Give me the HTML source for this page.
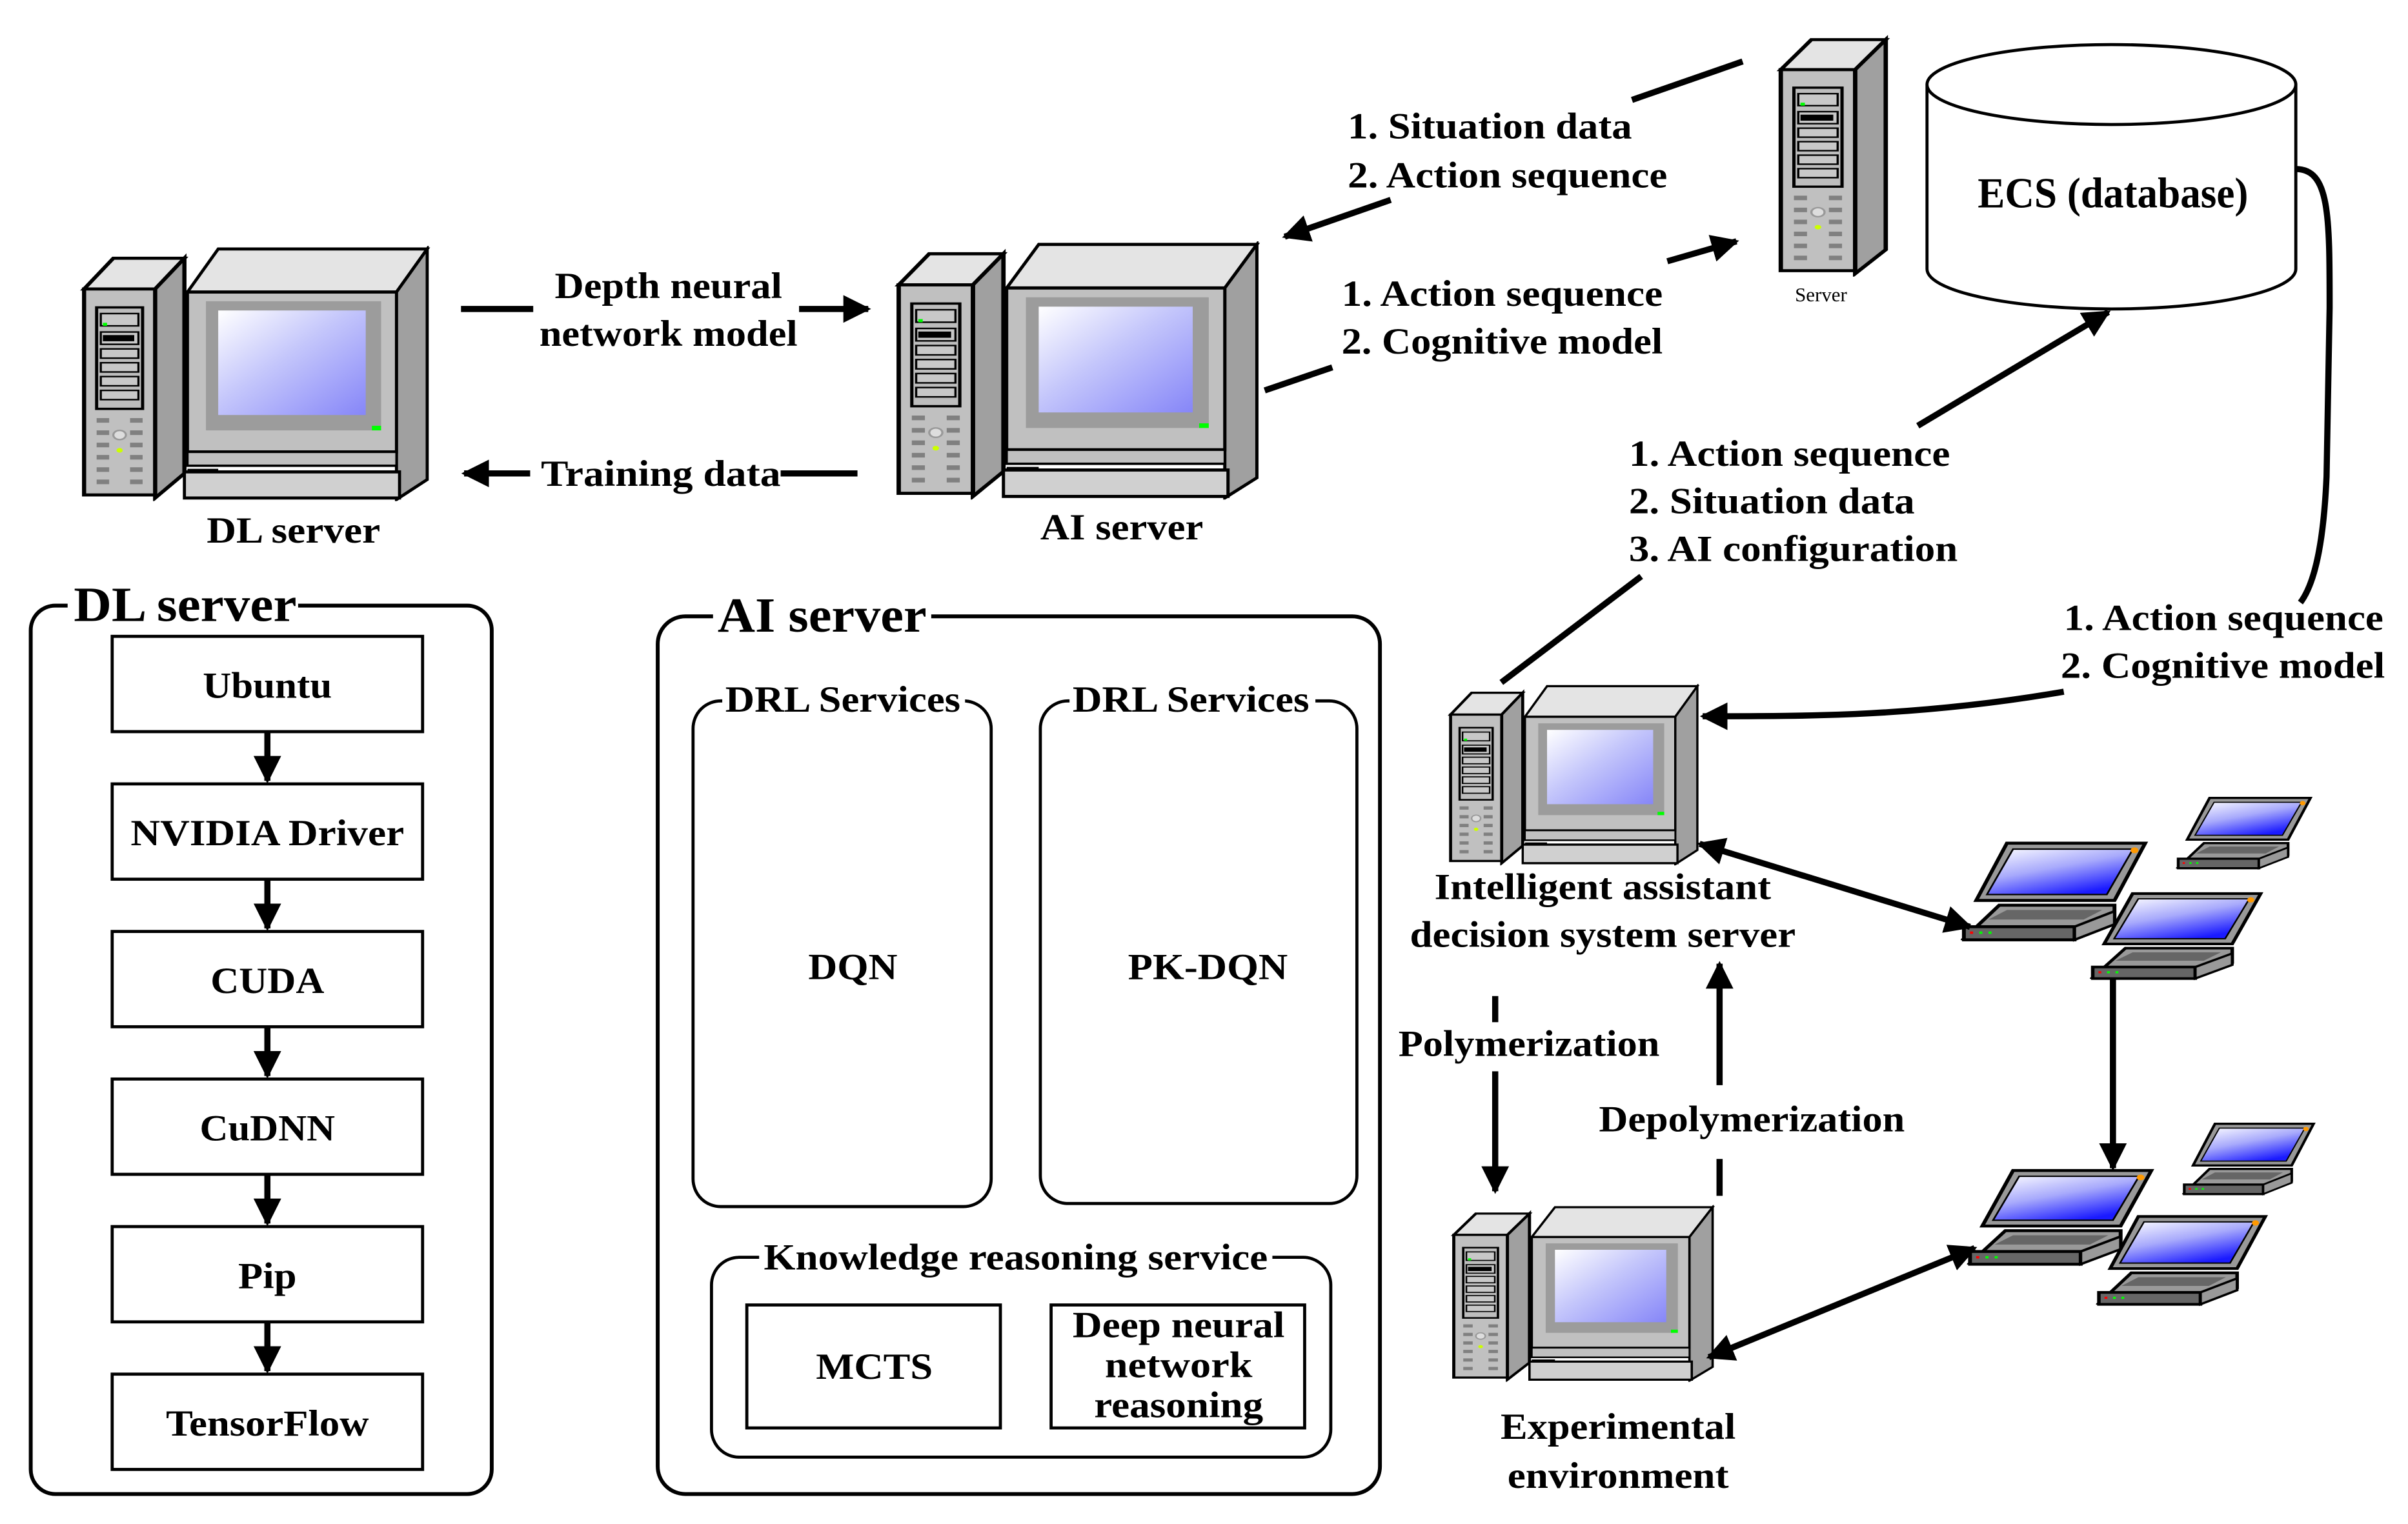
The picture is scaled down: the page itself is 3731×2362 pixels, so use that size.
<!DOCTYPE html>
<html><head><meta charset="utf-8"><style>
html,body{margin:0;padding:0;background:#fff;}
svg{display:block;}
text{font-family:"Liberation Serif",serif;font-weight:bold;fill:#000;}
</style></head><body>
<svg width="3731" height="2362" viewBox="0 0 1567 991.5" preserveAspectRatio="none" xmlns="http://www.w3.org/2000/svg">
<defs>
<marker id="ah" viewBox="0 0 10 10" refX="9" refY="5" markerWidth="4.5" markerHeight="4.5" orient="auto-start-reverse" markerUnits="strokeWidth">
<path d="M0,0 L10,5 L0,10 z" fill="#000"/></marker>
<linearGradient id="scr" x1="0" y1="0" x2="1" y2="1">
<stop offset="0" stop-color="#fff"/><stop offset="0.45" stop-color="#c4c6fb"/><stop offset="1" stop-color="#8686f8"/></linearGradient>
<linearGradient id="lscr" x1="0" y1="0" x2="0.6" y2="1">
<stop offset="0" stop-color="#fff"/><stop offset="0.5" stop-color="#a8aafc"/><stop offset="1" stop-color="#1a1aff"/></linearGradient>
<g id="tower">
<path d="M2,28 L16,8 L50,8 L36,28 z" fill="#e4e4e4" stroke="#000" stroke-width="2"/>
<path d="M36,28 L50,8 L50,148 L36,164 z" fill="#a0a0a0" stroke="#000" stroke-width="2"/>
<rect x="2" y="28" width="34" height="134" fill="#c0c0c0" stroke="#000" stroke-width="2"/>
<rect x="8" y="40" width="22" height="66" fill="#bdbdbd" stroke="#000" stroke-width="1.5"/>
<rect x="10" y="44" width="18" height="8" fill="#c8c8c8" stroke="#000" stroke-width="1"/>
<rect x="10" y="56" width="18" height="8" fill="#c8c8c8" stroke="#000" stroke-width="1"/>
<rect x="11" y="58" width="15" height="4" fill="#000"/>
<rect x="10" y="67" width="18" height="6" fill="#c8c8c8" stroke="#000" stroke-width="1"/>
<rect x="10" y="76" width="18" height="6" fill="#c8c8c8" stroke="#000" stroke-width="1"/>
<rect x="10" y="85" width="18" height="6" fill="#c8c8c8" stroke="#000" stroke-width="1"/>
<rect x="10" y="94" width="18" height="6" fill="#c8c8c8" stroke="#000" stroke-width="1"/>
<rect x="11" y="50" width="2" height="2" fill="#0f0"/>
<g fill="#808080"><rect x="8" y="112" width="6" height="3"/><rect x="24" y="112" width="6" height="3"/><rect x="8" y="120" width="6" height="3"/><rect x="24" y="120" width="6" height="3"/><rect x="8" y="128" width="6" height="3"/><rect x="24" y="128" width="6" height="3"/><rect x="8" y="136" width="6" height="3"/><rect x="24" y="136" width="6" height="3"/><rect x="8" y="144" width="6" height="3"/><rect x="24" y="144" width="6" height="3"/><rect x="8" y="152" width="6" height="3"/><rect x="24" y="152" width="6" height="3"/></g>
<circle cx="19" cy="123" r="3" fill="#ddd" stroke="#999"/><circle cx="19" cy="133" r="1.5" fill="#cf0"/>
</g>
<g id="pc">
<g transform="scale(1.36,1)"><use href="#tower"/></g>
<path d="M70,30 L90,2 L226,2 L206,30 z" fill="#e4e4e4" stroke="#000" stroke-width="2"/>
<path d="M206,30 L226,2 L226,152 L206,165 z" fill="#a0a0a0" stroke="#000" stroke-width="2"/>
<rect x="70" y="30" width="136" height="104" fill="#c0c0c0" stroke="#000" stroke-width="2"/>
<rect x="82" y="36" width="114" height="84" fill="#9c9c9c"/>
<rect x="90" y="42" width="96" height="68" fill="url(#scr)"/>
<rect x="190" y="117" width="6" height="3" fill="#0f0"/>
<rect x="70" y="134" width="136" height="9" fill="#c0c0c0" stroke="#000" stroke-width="1.5"/>
<rect x="68" y="147" width="140" height="17" fill="#d0d0d0" stroke="#000" stroke-width="2"/>
<rect x="70" y="145" width="20" height="2" fill="#000"/>
</g>
<g id="laptop">
<path d="M30,2 L120,2 L100,50 L10,50 z" fill="#999" stroke="#000" stroke-width="2.5"/>
<path d="M34,7 L112,7 L95,45 L17,45 z" fill="url(#lscr)" stroke="#000" stroke-width="1.2"/>
<circle cx="113" cy="8" r="2.5" fill="#f90"/>
<path d="M25,54 L100,54 L100,68 L72,82 L2,82 z" fill="#999" stroke="#000" stroke-width="2.5"/>
<path d="M30,58 L92,58 L80,66 L18,66 z" fill="#666"/>
<rect x="2" y="72" width="72" height="11" fill="#666" stroke="#000" stroke-width="2.5"/>
<path d="M74,72 L100,59 L100,70 L74,83 z" fill="#999" stroke="#000" stroke-width="2"/>
<rect x="6" y="76" width="2" height="2" fill="red"/><rect x="12" y="76" width="2" height="2" fill="#0f0"/><rect x="18" y="76" width="2" height="2" fill="#0f0"/>
</g>
</defs>

<!-- computers -->
<svg x="52" y="160" width="228" height="166" viewBox="0 0 228 166" preserveAspectRatio="none"><use href="#pc"/></svg>
<svg x="582" y="157" width="238" height="168" viewBox="0 0 228 166" preserveAspectRatio="none"><use href="#pc"/></svg>
<svg x="942" y="445" width="164" height="118" viewBox="0 0 228 166" preserveAspectRatio="none"><use href="#pc"/></svg>
<svg x="944" y="784" width="172" height="115" viewBox="0 0 228 166" preserveAspectRatio="none"><use href="#pc"/></svg>
<svg x="1156" y="18" width="74" height="162" viewBox="0 0 52 166" preserveAspectRatio="none"><use href="#tower"/></svg>
<text x="1185" y="196" font-size="13" text-anchor="middle" style="font-weight:normal">Server</text>

<!-- laptops -->
<svg x="1276" y="547" width="122" height="66" viewBox="0 0 122 85" preserveAspectRatio="none"><use href="#laptop"/></svg>
<svg x="1416" y="518" width="89" height="48" viewBox="0 0 122 85" preserveAspectRatio="none"><use href="#laptop"/></svg>
<svg x="1360" y="580" width="113" height="58" viewBox="0 0 122 85" preserveAspectRatio="none"><use href="#laptop"/></svg>
<svg x="1280" y="760" width="122" height="64" viewBox="0 0 122 85" preserveAspectRatio="none"><use href="#laptop"/></svg>
<svg x="1420" y="730" width="87" height="48" viewBox="0 0 122 85" preserveAspectRatio="none"><use href="#laptop"/></svg>
<svg x="1364" y="790" width="112" height="60" viewBox="0 0 122 85" preserveAspectRatio="none"><use href="#laptop"/></svg>

<!-- database -->
<path d="M1254,55 L1254,175 A120,26 0 0 0 1494,175 L1494,55" fill="#fff" stroke="#000" stroke-width="2"/>
<ellipse cx="1374" cy="55" rx="120" ry="26" fill="#fff" stroke="#000" stroke-width="2"/>
<text x="1375" y="135" font-size="28" text-anchor="middle" textLength="176" lengthAdjust="spacingAndGlyphs">ECS (database)</text>

<!-- connectors -->
<g stroke="#000" stroke-width="4" fill="none">
<line x1="300" y1="201" x2="347" y2="201"/>
<line x1="520" y1="201" x2="565" y2="201" marker-end="url(#ah)"/>
<line x1="345" y1="308" x2="302" y2="308" marker-end="url(#ah)"/>
<line x1="508" y1="308" x2="558" y2="308"/>
<line x1="905" y1="130" x2="836" y2="154" marker-end="url(#ah)"/>
<line x1="1062" y1="65" x2="1134" y2="40"/>
<line x1="823" y1="254" x2="867" y2="239"/>
<line x1="1085" y1="170" x2="1130" y2="157" marker-end="url(#ah)"/>
<line x1="977" y1="444" x2="1068" y2="375"/>
<line x1="1248" y1="277" x2="1372" y2="203" marker-end="url(#ah)"/>
<path d="M1494,110 C1516,110 1516,140 1516,200 L1514,310 C1512,355 1506,380 1497,392"/>
<path d="M1343,450 C1250,466 1180,466 1108,466" marker-end="url(#ah)"/>
<line x1="1106" y1="549" x2="1282" y2="603" marker-start="url(#ah)" marker-end="url(#ah)"/>
<line x1="1375" y1="637" x2="1375" y2="760" marker-end="url(#ah)"/>
<line x1="1112" y1="883" x2="1285" y2="812" marker-start="url(#ah)" marker-end="url(#ah)"/>
<line x1="973" y1="648" x2="973" y2="665"/>
<line x1="973" y1="697" x2="973" y2="775" marker-end="url(#ah)"/>
<line x1="1119" y1="778" x2="1119" y2="754"/>
<line x1="1119" y1="706" x2="1119" y2="627" marker-end="url(#ah)"/>
</g>

<!-- top labels -->
<g font-size="24">
<text x="435" y="194" text-anchor="middle" textLength="148" lengthAdjust="spacingAndGlyphs">Depth neural</text>
<text x="435" y="225" text-anchor="middle" textLength="168" lengthAdjust="spacingAndGlyphs">network model</text>
<text x="352" y="316" textLength="156" lengthAdjust="spacingAndGlyphs">Training data</text>
<text x="877" y="90" textLength="185" lengthAdjust="spacingAndGlyphs">1. Situation data</text>
<text x="877" y="122" textLength="208" lengthAdjust="spacingAndGlyphs">2. Action sequence</text>
<text x="873" y="199" textLength="209" lengthAdjust="spacingAndGlyphs">1. Action sequence</text>
<text x="873" y="230" textLength="209" lengthAdjust="spacingAndGlyphs">2. Cognitive model</text>
<text x="1060" y="303" textLength="209" lengthAdjust="spacingAndGlyphs">1. Action sequence</text>
<text x="1060" y="334" textLength="186" lengthAdjust="spacingAndGlyphs">2. Situation data</text>
<text x="1060" y="365" textLength="214" lengthAdjust="spacingAndGlyphs">3. AI configuration</text>
<text x="1343" y="410" textLength="208" lengthAdjust="spacingAndGlyphs">1. Action sequence</text>
<text x="1341" y="441" textLength="211" lengthAdjust="spacingAndGlyphs">2. Cognitive model</text>
<text x="191" y="353" text-anchor="middle" textLength="113" lengthAdjust="spacingAndGlyphs">DL server</text>
<text x="730" y="351" text-anchor="middle" textLength="106" lengthAdjust="spacingAndGlyphs">AI server</text>
<text x="1043" y="585" text-anchor="middle" textLength="219" lengthAdjust="spacingAndGlyphs">Intelligent assistant</text>
<text x="1043" y="616" text-anchor="middle" textLength="251" lengthAdjust="spacingAndGlyphs">decision system server</text>
<text x="995" y="687" text-anchor="middle" textLength="170" lengthAdjust="spacingAndGlyphs">Polymerization</text>
<text x="1140" y="736" text-anchor="middle" textLength="199" lengthAdjust="spacingAndGlyphs">Depolymerization</text>
<text x="1053" y="936" text-anchor="middle" textLength="153" lengthAdjust="spacingAndGlyphs">Experimental</text>
<text x="1053" y="968" text-anchor="middle" textLength="144" lengthAdjust="spacingAndGlyphs">environment</text>
</g>

<!-- DL server panel -->
<rect x="20" y="394" width="300" height="578" rx="16" fill="none" stroke="#000" stroke-width="2.5"/>
<rect x="44" y="380" width="150" height="28" fill="#fff"/>
<text x="48" y="404" font-size="32" textLength="145" lengthAdjust="spacingAndGlyphs">DL server</text>
<g fill="#fff" stroke="#000" stroke-width="2">
<rect x="73" y="414" width="202" height="62"/>
<rect x="73" y="510" width="202" height="62"/>
<rect x="73" y="606" width="202" height="62"/>
<rect x="73" y="702" width="202" height="62"/>
<rect x="73" y="798" width="202" height="62"/>
<rect x="73" y="894" width="202" height="62"/>
</g>
<g stroke="#000" stroke-width="4">
<line x1="174" y1="476" x2="174" y2="508" marker-end="url(#ah)"/>
<line x1="174" y1="572" x2="174" y2="604" marker-end="url(#ah)"/>
<line x1="174" y1="668" x2="174" y2="700" marker-end="url(#ah)"/>
<line x1="174" y1="764" x2="174" y2="796" marker-end="url(#ah)"/>
<line x1="174" y1="860" x2="174" y2="892" marker-end="url(#ah)"/>
</g>
<g font-size="24" text-anchor="middle">
<text x="174" y="454" textLength="84" lengthAdjust="spacingAndGlyphs">Ubuntu</text>
<text x="174" y="550" textLength="178" lengthAdjust="spacingAndGlyphs">NVIDIA Driver</text>
<text x="174" y="646" textLength="74" lengthAdjust="spacingAndGlyphs">CUDA</text>
<text x="174" y="742" textLength="88" lengthAdjust="spacingAndGlyphs">CuDNN</text>
<text x="174" y="838" textLength="38" lengthAdjust="spacingAndGlyphs">Pip</text>
<text x="174" y="934" textLength="132" lengthAdjust="spacingAndGlyphs">TensorFlow</text>
</g>

<!-- AI server panel -->
<rect x="428" y="401" width="470" height="571" rx="18" fill="none" stroke="#000" stroke-width="2.5"/>
<rect x="464" y="386" width="142" height="28" fill="#fff"/>
<text x="467" y="411" font-size="32" textLength="136" lengthAdjust="spacingAndGlyphs">AI server</text>
<rect x="451" y="456" width="194" height="329" rx="18" fill="none" stroke="#000" stroke-width="2"/>
<rect x="677" y="456" width="206" height="327" rx="18" fill="none" stroke="#000" stroke-width="2"/>
<rect x="470" y="442" width="158" height="24" fill="#fff"/>
<rect x="696" y="442" width="160" height="24" fill="#fff"/>
<text x="472" y="463" font-size="24" textLength="153" lengthAdjust="spacingAndGlyphs">DRL Services</text>
<text x="698" y="463" font-size="24" textLength="154" lengthAdjust="spacingAndGlyphs">DRL Services</text>
<text x="555" y="637" font-size="24" text-anchor="middle" textLength="58" lengthAdjust="spacingAndGlyphs">DQN</text>
<text x="786" y="637" font-size="24" text-anchor="middle" textLength="104" lengthAdjust="spacingAndGlyphs">PK-DQN</text>
<rect x="463" y="818" width="403" height="130" rx="18" fill="none" stroke="#000" stroke-width="2"/>
<rect x="494" y="806" width="334" height="24" fill="#fff"/>
<text x="661" y="826" font-size="24" text-anchor="middle" textLength="328" lengthAdjust="spacingAndGlyphs">Knowledge reasoning service</text>
<rect x="486" y="849" width="165" height="80" fill="none" stroke="#000" stroke-width="2"/>
<rect x="684" y="849" width="165" height="80" fill="none" stroke="#000" stroke-width="2"/>
<text x="569" y="897" font-size="24" text-anchor="middle" textLength="76" lengthAdjust="spacingAndGlyphs">MCTS</text>
<g font-size="24" text-anchor="middle">
<text x="767" y="870" textLength="138" lengthAdjust="spacingAndGlyphs">Deep neural</text>
<text x="767" y="896" textLength="96" lengthAdjust="spacingAndGlyphs">network</text>
<text x="767" y="922" textLength="110" lengthAdjust="spacingAndGlyphs">reasoning</text>
</g>
</svg>
</body></html>
